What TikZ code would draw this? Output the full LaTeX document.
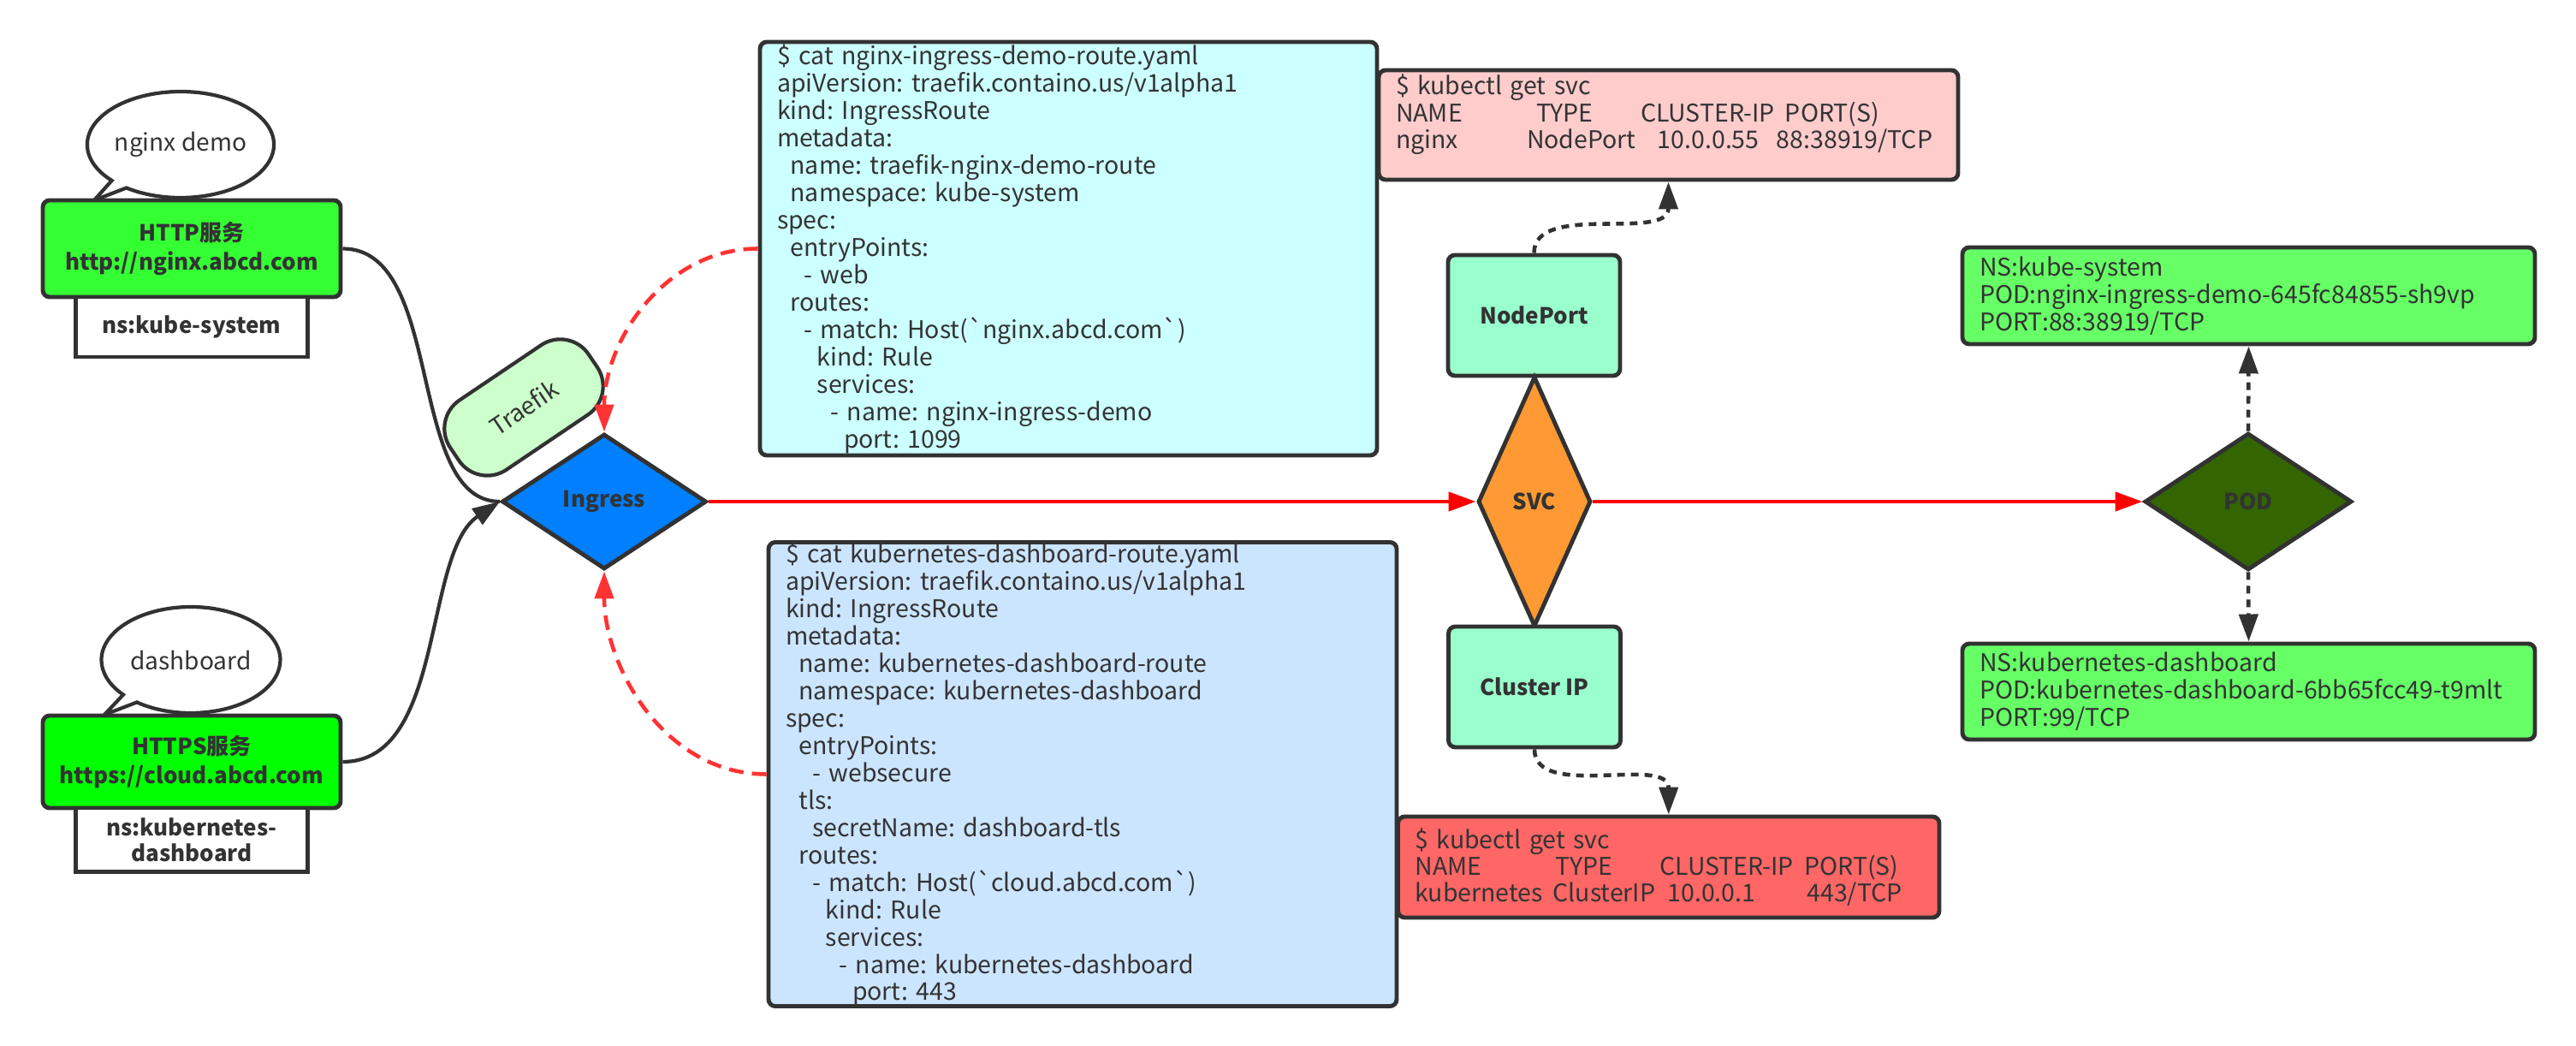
\documentclass[tikz,border=0pt]{standalone}
\usepackage{fontspec}
\setmainfont{Noto Sans CJK SC}
\newfontfamily\yamlfont{Noto Sans CJK SC}
\usepackage{tikz}
\usetikzlibrary{shapes.geometric,shapes.callouts,arrows.meta,positioning}
\frenchspacing

\definecolor{linegray}{HTML}{323232}
\definecolor{textgray}{HTML}{333333}
\definecolor{httpgreen}{HTML}{33FF33}
\definecolor{httpsgreen}{HTML}{00FF00}
\definecolor{podgreen}{HTML}{336600}
\definecolor{nsgreen}{HTML}{66FF66}
\definecolor{svcmint}{HTML}{99FFCC}
\definecolor{traefikgreen}{HTML}{CCFFCC}
\definecolor{ingressblue}{HTML}{007FFF}
\definecolor{svcorange}{HTML}{FF9933}
\definecolor{routecyan}{HTML}{CCFFFF}
\definecolor{routeblue}{HTML}{CCE5FF}
\definecolor{getpink}{HTML}{FFCCCC}
\definecolor{getred}{HTML}{FF6666}
\definecolor{flowred}{HTML}{FF0000}
\definecolor{dashred}{HTML}{FF3333}

\newlength\yamlstep
\setlength\yamlstep{0.156cm}
\newcommand\yind[1]{\hspace*{#1\yamlstep}}
\newcommand\svccol[2]{\makebox[#1][l]{#2}}

\begin{document}
\begin{tikzpicture}[
    text=textgray,
    >={Triangle[length=0.32cm,width=0.22cm]},
    labelfont/.style={font=\bfseries\fontsize{7.4}{9.7}\selectfont},
    codefont/.style={font=\yamlfont\fontsize{8.1}{9.1}\selectfont},
    hostbox/.style={draw=linegray, rounded corners=0.08cm, line width=1.4pt, minimum width=3.48cm, labelfont, align=center},
    nsbox/.style={draw=linegray, fill=white, line width=1.4pt, minimum width=2.71cm, labelfont, align=center},
    bubble/.style={ellipse callout, draw=linegray, fill=white, line width=1.2pt, inner sep=0pt, minimum width=2.09cm, minimum height=1.24cm, callout pointer arc=12, font=\fontsize{8}{9.7}\selectfont},
    gate/.style={diamond, draw=linegray, line width=1.4pt, inner sep=0pt, labelfont},
    svcbox/.style={draw=linegray, fill=svcmint, rounded corners=0.08cm, line width=1.4pt, minimum width=2.01cm, minimum height=1.41cm, labelfont},
    codebox/.style={draw=linegray, rounded corners=0.08cm, line width=1.4pt, align=left, inner xsep=0.2cm, inner ysep=0pt, codefont},
    feed/.style={draw=linegray, line width=1.2pt},
    flow/.style={->, draw=flowred, line width=1.3pt},
    routelink/.style={->, draw=dashred, line width=1.3pt, dash pattern=on 0.17cm off 0.1cm},
    dotlink/.style={->, draw=linegray, line width=1.3pt, dash pattern=on 0.09cm off 0.07cm},
]
    \useasboundingbox (0,0) rectangle (30.10,-12.22);

    % hosts on the left
    \node[bubble, callout absolute pointer={(1.10,-2.34)}] (demobubble) at (2.11,-1.69) {nginx demo};
    \node[bubble, callout absolute pointer={(1.22,-8.35)}] (dashbubble) at (2.23,-7.71) {dashboard};

    \node[hostbox, fill=httpgreen, minimum height=1.13cm] (http) at (2.24,-2.905) {HTTP服务\\http://nginx.abcd.com};
    \node[nsbox, minimum height=0.70cm, below=-1.4pt of http] (nssys) {ns:kube-system};

    \node[hostbox, fill=httpsgreen, minimum height=1.08cm] (https) at (2.24,-8.90) {HTTPS服务\\https://cloud.abcd.com};
    \node[nsbox, minimum height=0.68cm, below=-1.4pt of https, font=\bfseries\fontsize{7.4}{8.6}\selectfont] (nsdash) {ns:kubernetes-\\dashboard};

    % ingress
    \node[draw=linegray, fill=traefikgreen, line width=1.2pt, rounded corners=0.4cm, minimum width=1.95cm, minimum height=0.98cm, rotate=34, font=\fontsize{8}{9.7}\selectfont] (traefik) at (6.12,-4.76) {Traefik};
    \node[gate, fill=ingressblue, minimum width=2.39cm, minimum height=1.58cm] (ingress) at (7.06,-5.86) {Ingress};

    % IngressRoute files
    \node[codebox, fill=routecyan, text width=6.81cm, minimum height=4.83cm] (nginxroute) at (12.485,-2.905) {\$ cat nginx-ingress-demo-route.yaml\\
apiVersion: traefik.containo.us/v1alpha1\\
kind: IngressRoute\\
metadata:\\
\yind{1}name: traefik-nginx-demo-route\\
\yind{1}namespace: kube-system\\
spec:\\
\yind{1}entryPoints:\\
\yind{2}- web\\
\yind{1}routes:\\
\yind{2}- match: Host(`nginx.abcd.com`)\\
\yind{3}kind: Rule\\
\yind{3}services:\\
\yind{4}- name: nginx-ingress-demo\\
\yind{5}port: 1099};

    \node[codebox, fill=routeblue, text width=6.94cm, minimum height=5.37cm] (dashroute) at (12.65,-9.045) {\$ cat kubernetes-dashboard-route.yaml\\
apiVersion: traefik.containo.us/v1alpha1\\
kind: IngressRoute\\
metadata:\\
\yind{1}name: kubernetes-dashboard-route\\
\yind{1}namespace: kubernetes-dashboard\\
spec:\\
\yind{1}entryPoints:\\
\yind{2}- websecure\\
\yind{1}tls:\\
\yind{2}secretName: dashboard-tls\\
\yind{1}routes:\\
\yind{2}- match: Host(`cloud.abcd.com`)\\
\yind{3}kind: Rule\\
\yind{3}services:\\
\yind{4}- name: kubernetes-dashboard\\
\yind{5}port: 443};

    % services
    \node[codebox, fill=getpink, text width=6.37cm, minimum height=1.28cm, font=\yamlfont\fontsize{8.1}{8.9}\selectfont] (nginxsvc) at (19.495,-1.46) {\$ kubectl get svc\\
\svccol{1.64cm}{NAME}\svccol{1.22cm}{TYPE}\svccol{1.69cm}{CLUSTER-IP}PORT(S)\\
\svccol{1.53cm}{nginx}\svccol{1.53cm}{NodePort}\svccol{1.39cm}{10.0.0.55}88:38919/TCP\\
\mbox{}};
    \node[svcbox] (nodeport) at (17.925,-3.685) {NodePort};
    \node[gate, fill=svcorange, minimum width=1.32cm, minimum height=2.92cm] (svc) at (17.93,-5.86) {SVC};
    \node[svcbox] (clusterip) at (17.93,-8.025) {Cluster IP};
    \node[codebox, fill=getred, text width=5.925cm, minimum height=1.18cm, font=\yamlfont\fontsize{8.1}{8.9}\selectfont] (k8ssvc) at (19.4975,-10.13) {\$ kubectl get svc\\
\svccol{1.64cm}{NAME}\svccol{1.22cm}{TYPE}\svccol{1.69cm}{CLUSTER-IP}PORT(S)\\
\svccol{1.61cm}{kubernetes}\svccol{1.34cm}{ClusterIP}\svccol{1.63cm}{10.0.0.1}443/TCP};

    % pods
    \node[codebox, fill=nsgreen, text width=6.29cm, minimum height=1.13cm] (podsys) at (26.275,-3.455) {NS:kube-system\\
POD:nginx-ingress-demo-645fc84855-sh9vp\\
PORT:88:38919/TCP};
    \node[gate, fill=podgreen, minimum width=2.42cm, minimum height=1.60cm] (pod) at (26.27,-5.86) {POD};
    \node[codebox, fill=nsgreen, text width=6.29cm, minimum height=1.12cm] (poddash) at (26.275,-8.08) {NS:kubernetes-dashboard\\
POD:kubernetes-dashboard-6bb65fcc49-t9mlt\\
PORT:99/TCP};

    % connectors
    \draw[feed] (http.east) .. controls +(1.2,0) and +(-1.1,0) .. (ingress.west);
    \draw[feed, ->] (https.east) .. controls +(1.2,0) and +(-0.9,-0.6) .. (ingress.west);
    \draw[routelink] (nginxroute.west) .. controls +(-1.08,0) and +(0,1.07) .. (ingress.north);
    \draw[routelink] (dashroute.west) .. controls +(-1.2,0) and +(0,-1.1) .. (ingress.south);
    \draw[flow] (ingress.east) -- (svc.west);
    \draw[flow] (svc.east) -- (pod.west);
    \draw[dotlink] (nodeport.north) .. controls +(0,0.6) and +(0,-0.7) .. (nginxsvc.south);
    \draw[dotlink] (clusterip.south) .. controls +(0,-0.6) and +(0,0.7) .. (k8ssvc.north);
    \draw[dotlink] (pod.north) -- (podsys.south);
    \draw[dotlink] (pod.south) -- (poddash.north);
\end{tikzpicture}
\end{document}
